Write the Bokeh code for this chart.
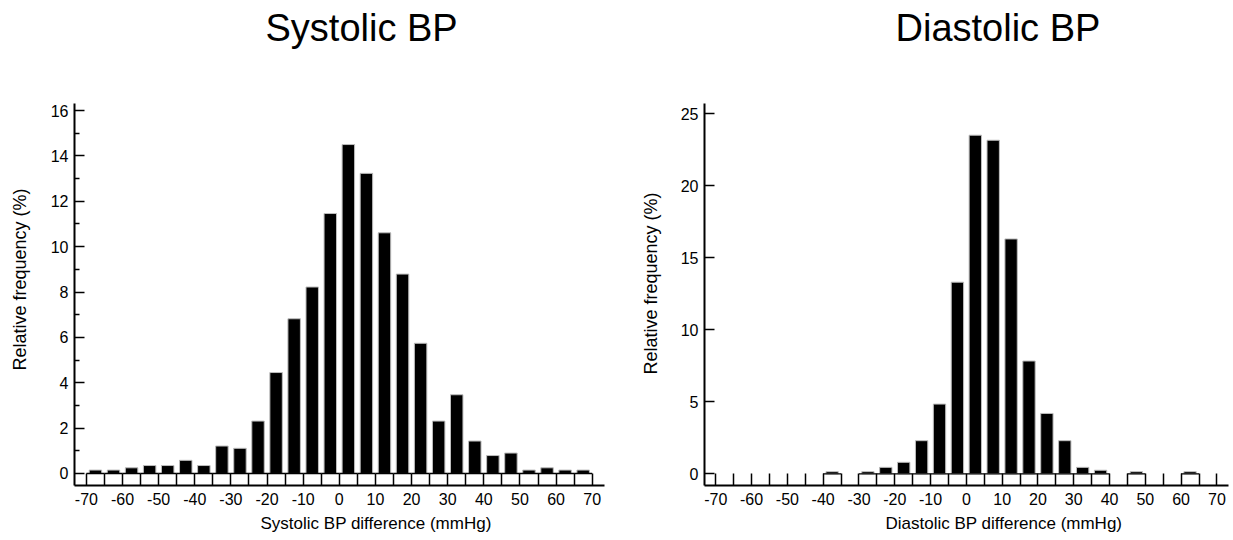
from bokeh.plotting import figure
from bokeh.models import FixedTicker, Title, Range1d
from bokeh.layouts import row
from bokeh.embed import file_html
from bokeh.resources import INLINE

# ---- data ----
bin_left = list(range(-70, 70, 5))   # left edges of 5-mmHg bins
bin_width = 5
systolic = [0.15, 0.15, 0.25, 0.35, 0.35, 0.58, 0.35, 1.21, 1.11, 2.31,
            4.45, 6.82, 8.22, 11.46, 14.5, 13.23, 10.61, 8.79, 5.74, 2.31,
            3.47, 1.43, 0.79, 0.9, 0.15, 0.25, 0.15, 0.15]
diastolic = [0, 0, 0, 0, 0, 0, 0.15, 0, 0.15, 0.45,
             0.8, 2.3, 4.84, 13.3, 23.5, 23.15, 16.3, 7.83, 4.19, 2.3,
             0.45, 0.25, 0, 0.15, 0, 0, 0.15, 0]
x_major = list(range(-70, 71, 10))
x_minor = list(range(-65, 66, 10))
sys_y_major = list(range(0, 17, 2))
sys_y_minor = list(range(1, 16, 2))
dia_y_major = list(range(0, 26, 5))

FONT = "Liberation Sans"


def spacer(standoff):
    return Title(text=" ", text_font_size="1px", standoff=standoff)


def make_chart(title, xlabel, values, y_major, y_minor, xr, yr,
               w, h, bl, bt, br, bb, t_off, xl_off, yl_off, top_gap, left_gap):
    p = figure(width=w, height=h, title=None,
               x_range=Range1d(*xr), y_range=Range1d(*yr),
               output_backend="svg", toolbar_location=None,
               min_border_left=bl, min_border_top=bt, min_border_right=br,
               min_border_bottom=bb)
    p.outline_line_color = None
    p.xgrid.visible = False
    p.ygrid.visible = False
    p.background_fill_color = "white"
    p.border_fill_color = "white"

    nz = [(l, v) for l, v in zip(bin_left, values) if v > 0]
    lefts = [l for l, v in nz]
    rights = [l + bin_width for l, v in nz]
    centers = [l + bin_width / 2 for l, v in nz]
    tops = [v for l, v in nz]
    p.vbar(x=centers, top=tops, bottom=0, width=bin_width * 0.69,
           fill_color="black", line_color="#bdbdbd", line_width=1)
    p.segment(x0=lefts, x1=rights, y0=[0] * len(nz), y1=[0] * len(nz),
              line_color="black", line_width=1.3)

    xa = p.xaxis[0]
    xa.ticker = FixedTicker(ticks=x_major, minor_ticks=x_minor)
    xa.major_label_overrides = {t: str(t) for t in x_major}
    xa.major_tick_in = 12
    xa.major_tick_out = 0
    xa.minor_tick_in = 12
    xa.minor_tick_out = 0
    xa.axis_line_width = 2
    xa.major_tick_line_width = 1.5
    xa.minor_tick_line_width = 1.5
    xa.major_label_text_font = FONT
    xa.major_label_text_font_size = "16px"
    xa.major_label_text_color = "black"
    xa.major_label_standoff = 7

    ya = p.yaxis[0]
    ya.ticker = FixedTicker(ticks=y_major, minor_ticks=y_minor)
    ya.major_label_overrides = {t: str(t) for t in y_major}
    ya.major_tick_in = 10
    ya.major_tick_out = 0
    ya.minor_tick_in = 5
    ya.minor_tick_out = 0
    ya.axis_line_width = 2
    ya.major_tick_line_width = 1.5
    ya.minor_tick_line_width = 1.5
    ya.major_label_text_font = FONT
    ya.major_label_text_font_size = "16px"
    ya.major_label_text_color = "black"
    ya.major_label_standoff = 6

    p.add_layout(spacer(top_gap), "above")
    p.add_layout(Title(text=title, text_font=FONT, text_font_size="38px",
                       text_font_style="normal", text_color="black",
                       align="left", offset=t_off, standoff=0), "above")
    p.add_layout(Title(text=xlabel, text_font=FONT, text_font_size="17px",
                       text_font_style="normal", text_color="black",
                       align="left", offset=xl_off, standoff=8), "below")
    p.add_layout(spacer(left_gap), "left")
    p.add_layout(Title(text="Relative frequency (%)", text_font=FONT,
                       text_font_size="18px", text_font_style="normal",
                       text_color="black", align="left", offset=yl_off,
                       standoff=0), "left")
    return p


p1 = make_chart("Systolic BP", "Systolic BP difference (mmHg)", systolic,
                sys_y_major, sys_y_minor, (-73.3, 73.4), (-0.53, 16.31),
                634, 540, 74, 103, 30, 55, 191, 186, 115, 52, 15)
p2 = make_chart("Diastolic BP", "Diastolic BP difference (mmHg)", diastolic,
                dia_y_major, [], (-73.16, 73.24), (-0.81, 25.7),
                599, 540, 70, 103, 5, 55, 191, 181, 111, 52, 14)

layout = row(p1, p2)
open("out.html", "w").write(file_html(layout, INLINE))
